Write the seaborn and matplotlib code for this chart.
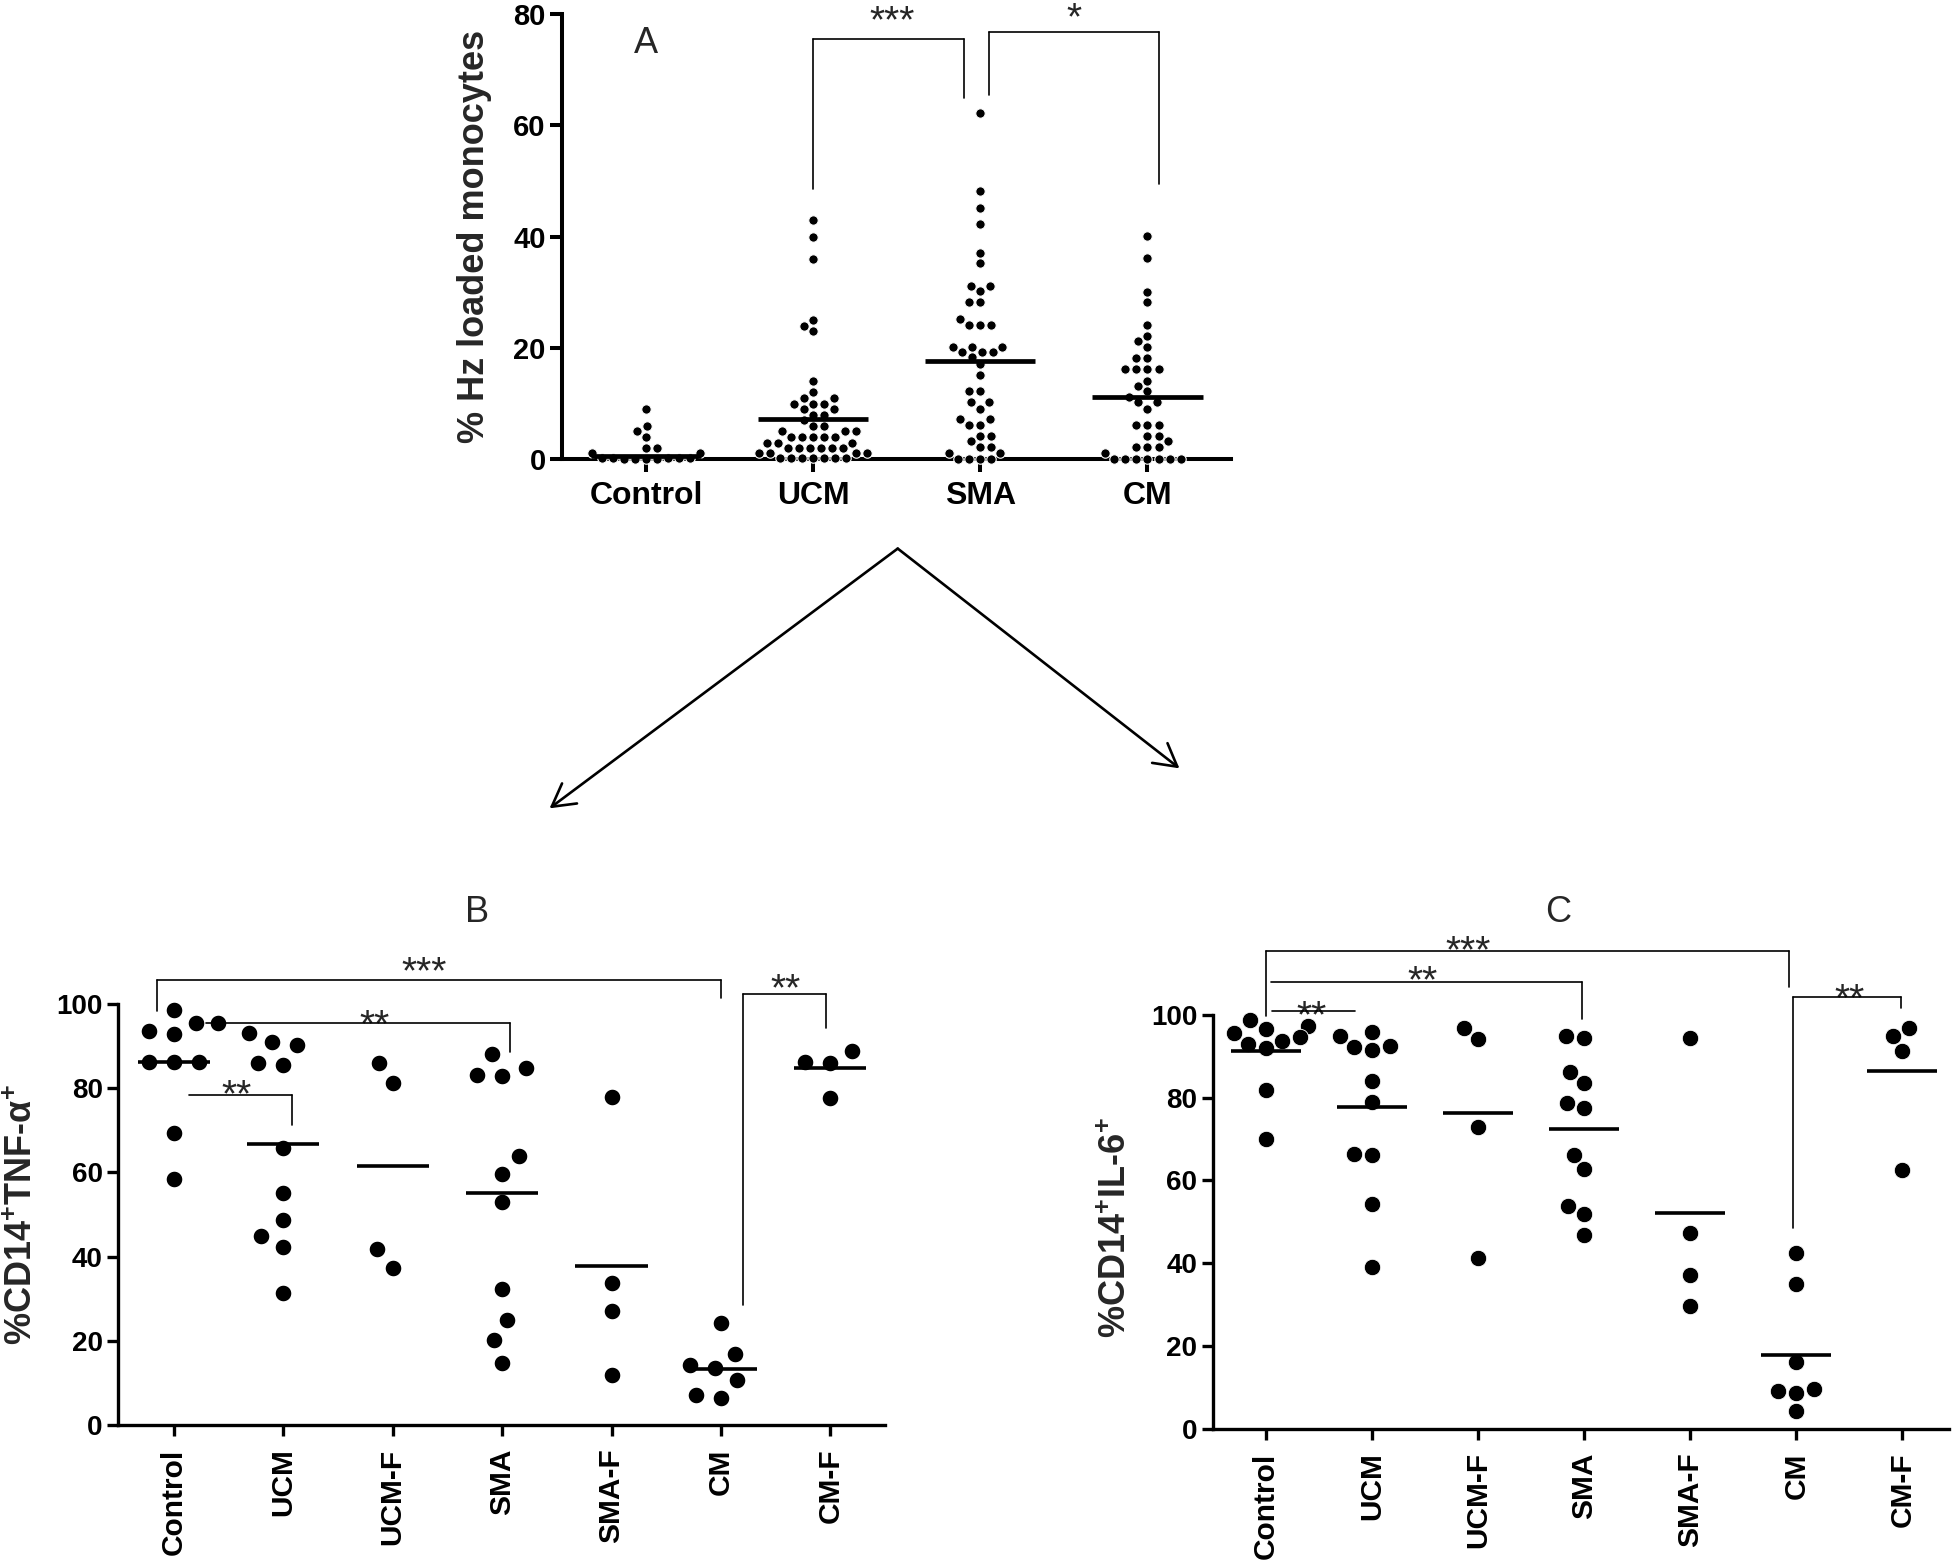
"""Hz loaded monocytes (A) and CD14+ TNF-a / IL-6 positive monocytes (B, C)."""

import matplotlib

matplotlib.use("Agg")

import matplotlib.pyplot as plt
import numpy as np
import pandas as pd
import seaborn as sns
from matplotlib.patches import FancyArrowPatch

# ---- panel A: % Hz loaded monocytes -------------------------------------
a_groups = ["Control", "UCM", "SMA", "CM"]
a_control = [9.0, 6.0, 5.1, 4.0, 2.0, 2.0, 1.1, 1.1,
             0.3, 0.3, 0.2, 0.2, 0.2, 0.1, 0.1, 0.0, 0.0]
a_ucm = [43, 40, 36, 25, 24, 23, 14, 12, 11, 11, 10, 10, 10, 9, 9, 8, 8, 7,
         6, 6, 5, 5, 5, 4, 4, 4, 4, 4, 3, 3, 3, 2, 2, 2, 2, 2, 2,
         1.1, 1.1, 1.1, 1.1, 0.2, 0.2, 0.2, 0.2, 0.2, 0.2, 0.2]
a_sma = [62.2, 48.2, 45.2, 42.2, 37.1, 35.2, 31.2, 31.2, 30.2, 28.2, 28.2,
         25.2, 24.1, 24.1, 24.1, 20.2, 20.2, 20.2, 19.2, 19.2, 19.2, 18.3,
         17.1, 15.2, 12.2, 12.2, 10.2, 10.2, 9.1, 7.2, 7.2, 6.2, 6.2, 4.2,
         4.2, 3.2, 2.2, 2.2, 1.2, 1.2, 0.1, 0.1, 0.1, 0.1]
a_cm = [40.1, 36.1, 30.1, 28.2, 24.1, 22.2, 21.2, 20.2, 18.2, 18.2, 16.2,
        16.2, 16.2, 16.2, 14.1, 13.2, 12.2, 11.1, 10.2, 10.2, 9.1, 6.2, 6.2,
        6.2, 4.2, 4.2, 3.2, 2.2, 2.2, 2.2, 1.2,
        0.1, 0.1, 0.1, 0.1, 0.1, 0.1, 0.1]
a_centre = [0.5, 7.2, 17.7, 11.1]

# ---- panels B and C: 7 groups ------------------------------------------
bc_groups = ["Control", "UCM", "UCM-F", "SMA", "SMA-F", "CM", "CM-F"]

b_control = [98.6, 95.6, 95.4, 93.7, 92.9, 86.3, 86.3, 86.3, 69.3, 58.5]
b_ucm = [93.2, 91.0, 90.3, 85.9, 85.5, 65.7, 55.0, 48.8, 44.9, 42.3, 31.4]
b_ucm_f = [86.0, 81.2, 41.8, 37.4]
b_sma = [88.1, 84.8, 83.2, 82.9, 63.8, 59.7, 52.9, 32.3, 25.0, 20.1, 14.7]
b_sma_f = [78.0, 33.8, 27.1, 11.8]
b_cm = [24.2, 16.9, 14.3, 13.5, 10.7, 7.1, 6.3]
b_cm_f = [88.8, 86.2, 86.0, 77.8]

c_control = [98.7, 97.3, 96.5, 95.6, 94.6, 93.8, 93.0, 92.0, 81.8, 70.1]
c_ucm = [95.8, 94.9, 92.5, 92.2, 91.6, 84.1, 79.0, 66.5, 66.2, 54.2, 39.2]
c_ucm_f = [96.9, 94.2, 72.9, 41.3]
c_sma = [94.9, 94.5, 86.2, 83.5, 78.8, 77.6, 66.2, 62.8, 53.9, 51.8, 46.9]
c_sma_f = [94.5, 47.4, 37.1, 29.6]
c_cm = [42.5, 35.0, 16.2, 9.6, 9.1, 8.6, 4.2]
c_cm_f = [96.9, 94.9, 91.4, 62.6]

# significance brackets:
# (x_left, x_right, y_bar, y_left_foot, y_right_foot, label, label_x, label_y)
a_brackets = [
    (1.0, 1.9, 75.5, 48.5, 65.0, "***", 1.47, 80.7),
    (2.05, 3.07, 76.8, 65.5, 49.5, "*", 2.56, 81.2),
]
b_brackets = [
    (-0.15, 5.0, 105.7, 98.4, 101.5, "***", 2.29, 110.3),
    (0.29, 3.07, 95.6, None, 88.6, "**", 1.83, 97.5),
    (0.14, 1.077, 78.5, None, 71.3, "**", 0.57, 81.0),
    (5.2, 5.96, 102.3, 28.6, 94.3, "**", 5.59, 106.2),
]
c_brackets = [
    (0.0, 4.93, 115.4, 99.8, 106.8, "***", 1.91, 118.2),
    (0.05, 2.98, 107.9, None, 99.0, "**", 1.48, 110.8),
    (0.06, 0.84, 101.0, None, None, "**", 0.43, 102.5),
    (4.97, 5.99, 104.3, 48.6, 101.6, "**", 5.50, 106.4),
]

NARROW = ["Liberation Sans Narrow", "Liberation Sans"]


def long_frame(groups, columns):
    return pd.DataFrame({
        "group": np.repeat(groups, [len(c) for c in columns]),
        "value": np.concatenate([np.asarray(c, dtype=float) for c in columns]),
    })


def draw_brackets(ax, brackets):
    for x1, x2, y, yl, yr, label, lx, ly in brackets:
        kw = dict(color="black", lw=1.2, clip_on=False, zorder=4)
        ax.plot([x1, x2], [y, y], **kw)
        if yl is not None:
            ax.plot([x1, x1], [yl, y], **kw)
        if yr is not None:
            ax.plot([x2, x2], [yr, y], **kw)
        ax.annotate(label, xy=(lx, ly), xytext=(0, -16), textcoords="offset points",
                    ha="center", va="baseline", fontsize=28, fontweight="normal",
                    family=NARROW, annotation_clip=False)


def style_axis(ax, spine_w, tick_len):
    sns.despine(ax=ax)
    for side in ("left", "bottom"):
        ax.spines[side].set_linewidth(spine_w)
        ax.spines[side].set_color("black")
    ax.tick_params(axis="both", direction="out", length=tick_len, width=spine_w,
                   color="black", labelcolor="black")
    ax.set_xlabel("")


sns.set_theme(style="ticks")
plt.rcParams["font.family"] = ["Liberation Sans", "DejaVu Sans"]
plt.rcParams["font.weight"] = "bold"
plt.rcParams["axes.labelweight"] = "bold"
plt.rcParams["mathtext.fontset"] = "custom"
plt.rcParams["mathtext.rm"] = "Liberation Sans:bold"
plt.rcParams["mathtext.bf"] = "Liberation Sans:bold"

fig = plt.figure(figsize=(19.55, 15.62), dpi=100)
ax_a = fig.add_axes([0.2877, 0.7060, 0.3420, 0.2850])
ax_b = fig.add_axes([0.0604, 0.0877, 0.3923, 0.2695])
ax_c = fig.add_axes([0.6203, 0.0853, 0.3767, 0.2649])

# ---- A ----
df_a = long_frame(a_groups, [a_control, a_ucm, a_sma, a_cm])
sns.swarmplot(data=df_a, x="group", y="value", order=a_groups, color="black",
              size=6.8, linewidth=0.8, edgecolor="white", warn_thresh=1,
              clip_on=False, ax=ax_a)
pos = np.arange(len(a_groups))
ax_a.hlines(a_centre, pos - 0.33, pos + 0.33, color="black", lw=3.4, zorder=3)
ax_a.set_xlim(-0.5, 3.5)
ax_a.set_ylim(0, 80)
ax_a.set_yticks([0, 20, 40, 60, 80])
style_axis(ax_a, 2.9, 9)
ax_a.tick_params(axis="x", labelsize=23, pad=7)
ax_a.tick_params(axis="y", labelsize=21, pad=3)
ax_a.set_ylabel("% Hz loaded monocytes", fontsize=26, fontweight="bold", va="center")
ax_a.yaxis.set_label_coords(-0.131, 0.5)
draw_brackets(ax_a, a_brackets)
ax_a.text(0, 74.7, "A", ha="center", va="center", fontsize=26, fontweight="normal",
          family=NARROW)

# ---- B and C ----
panels = [
    (ax_b, [b_control, b_ucm, b_ucm_f, b_sma, b_sma_f, b_cm, b_cm_f], b_brackets,
     "%CD14$^{\\mathbf{+}}$TNF-α$^{\\mathbf{+}}$", (-0.124, 0.5), (-0.51, 6.5), 3.0),
    (ax_c, [c_control, c_ucm, c_ucm_f, c_sma, c_sma_f, c_cm, c_cm_f], c_brackets,
     "%CD14$^{\\mathbf{+}}$IL-6$^{\\mathbf{+}}$", (-0.13, 0.485), (-0.5, 6.44), 0.6),
]
for ax, cols, brackets, ylabel, label_xy, xlim, edge in panels:
    df = long_frame(bc_groups, cols)
    sns.swarmplot(data=df, x="group", y="value", order=bc_groups, color="black",
                  size=11.2 + edge, linewidth=edge, edgecolor="white",
                  warn_thresh=1, clip_on=False, ax=ax)
    means = df.groupby("group", sort=False)["value"].mean().reindex(bc_groups)
    pos = np.arange(len(bc_groups))
    ax.hlines(means.values, pos - 0.33, pos + 0.33, color="black", lw=2.6, zorder=3)
    ax.set_xlim(*xlim)
    ax.set_ylim(0, 100)
    ax.set_yticks(range(0, 101, 20))
    style_axis(ax, 2.4, 8)
    ax.tick_params(axis="x", labelsize=21.5, pad=9, labelrotation=90)
    ax.tick_params(axis="y", labelsize=20, pad=3)
    ax.set_ylabel(ylabel, fontsize=26, fontweight="bold", va="center")
    ax.yaxis.set_label_coords(*label_xy)
    draw_brackets(ax, brackets)

fig.text(0.2442, 0.4157, "B", ha="center", va="center", fontsize=26, fontweight="normal",
         family=NARROW)
fig.text(0.7972, 0.4157, "C", ha="center", va="center", fontsize=26, fontweight="normal",
         family=NARROW)

# arrows from panel A down to panels B and C
apex = (0.4592, 0.6488)
for tip in [(0.2811, 0.4825), (0.6033, 0.5081)]:
    fig.patches.append(FancyArrowPatch(
        apex, tip, transform=fig.transFigure, arrowstyle="->,head_length=0.8,head_width=0.45",
        mutation_scale=20, lw=1.9, color="black", shrinkA=0, shrinkB=0))

fig.savefig("out.png", dpi=100)
